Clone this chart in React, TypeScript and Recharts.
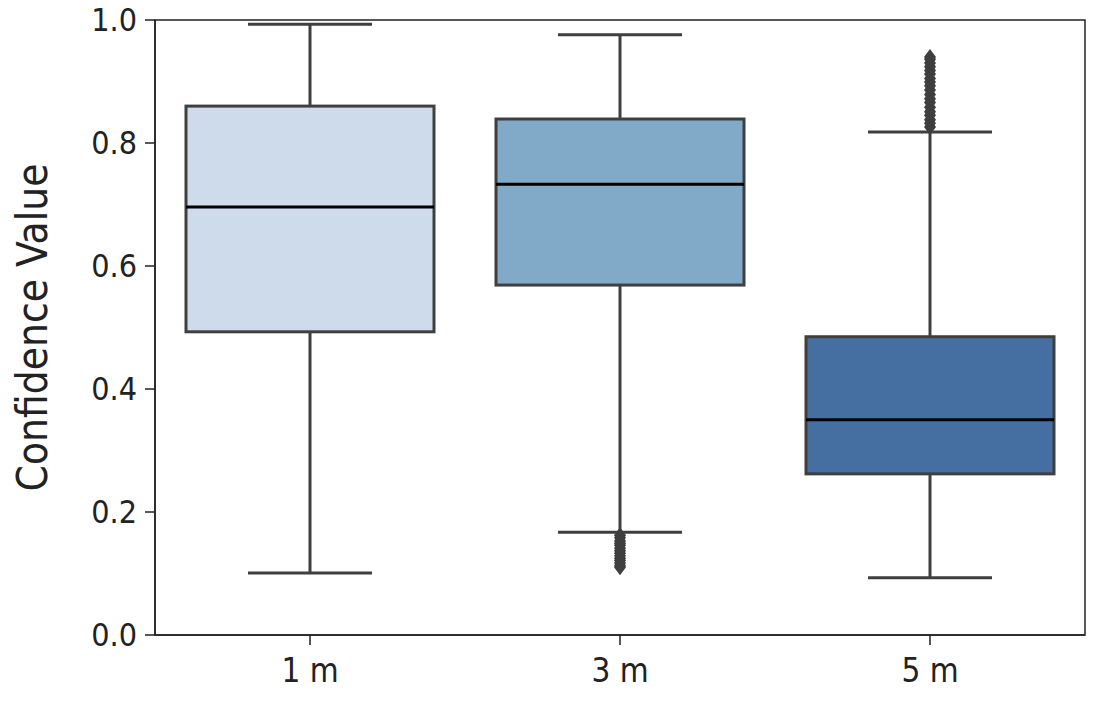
import { Bar, ComposedChart, ReferenceArea, XAxis, YAxis } from 'recharts';

const categories = ['1 m', '3 m', '5 m'];
const whiskerLow = [0.101, 0.167, 0.093];
const q1 = [0.493, 0.569, 0.262];
const median = [0.696, 0.733, 0.35];
const q3 = [0.86, 0.839, 0.485];
const whiskerHigh = [0.993, 0.976, 0.818];
const outliers: number[][] = [
  [],
  [0.162, 0.158, 0.153, 0.149, 0.146, 0.141, 0.137, 0.133, 0.129, 0.125, 0.121, 0.117, 0.113, 0.11],
  [0.826, 0.832, 0.838, 0.845, 0.851, 0.858, 0.866, 0.872, 0.879, 0.886, 0.893, 0.899, 0.905, 0.912, 0.918, 0.924, 0.93, 0.936, 0.94],
];
const boxColors = ['#cddbea', '#81a9c8', '#446fa0'];
const yTicks = [0, 0.2, 0.4, 0.6, 0.8, 1.0];

const data = categories.map((cat, i) => ({
  cat,
  range: [whiskerLow[i], whiskerHigh[i]],
  lo: whiskerLow[i],
  q1: q1[i],
  med: median[i],
  q3: q3[i],
  hi: whiskerHigh[i],
  fliers: outliers[i],
  color: boxColors[i],
}));

const FONT = '"DejaVu Sans Condensed", "DejaVu Sans", sans-serif';
const LINE = '#3f3f3f';

function BoxShape(props: any) {
  const { x, y, width, height, payload } = props;
  const top = Math.min(y, y + height);
  const bottom = Math.max(y, y + height);
  const { lo, hi } = payload;
  const py = (v: number) => bottom - ((v - lo) / (hi - lo)) * (bottom - top);
  const cx = x + width / 2;
  const capHalf = width / 4;
  return (
    <g>
      <line x1={cx} x2={cx} y1={py(hi)} y2={py(payload.q3)} stroke={LINE} strokeWidth={3} />
      <line x1={cx} x2={cx} y1={py(payload.q1)} y2={py(lo)} stroke={LINE} strokeWidth={3} />
      <line x1={cx - capHalf} x2={cx + capHalf} y1={py(hi)} y2={py(hi)} stroke={LINE} strokeWidth={3} />
      <line x1={cx - capHalf} x2={cx + capHalf} y1={py(lo)} y2={py(lo)} stroke={LINE} strokeWidth={3} />
      <rect
        x={x}
        y={py(payload.q3)}
        width={width}
        height={py(payload.q1) - py(payload.q3)}
        fill={payload.color}
        stroke={LINE}
        strokeWidth={3}
      />
      <line x1={x} x2={x + width} y1={py(payload.med)} y2={py(payload.med)} stroke="#000" strokeWidth={3} />
      {payload.fliers.map((v: number, k: number) => {
        const fy = py(v);
        return (
          <polygon
            key={k}
            points={`${cx},${fy - 8} ${cx + 6},${fy} ${cx},${fy + 8} ${cx - 6},${fy}`}
            fill={LINE}
          />
        );
      })}
    </g>
  );
}

export default function App() {
  return (
    <div style={{ position: 'absolute', left: 0, top: 0, background: '#fff' }}>
      <ComposedChart
        width={1098}
        height={708}
        data={data}
        margin={{ top: 20, right: 13, bottom: 0, left: 0 }}
        barCategoryGap="10%"
      >
        <XAxis
          dataKey="cat"
          type="category"
          height={73}
          tick={{ fill: '#222', fontSize: 33, fontFamily: FONT }}
          tickLine={{ stroke: '#222', strokeWidth: 1.5 }}
          tickSize={10}
          tickMargin={14}
          axisLine={{ stroke: '#222', strokeWidth: 1.5 }}
        />
        <YAxis
          domain={[0, 1]}
          ticks={yTicks}
          width={155}
          tickFormatter={(v: number) => v.toFixed(1)}
          tick={{ fill: '#222', fontSize: 32, fontFamily: FONT }}
          tickLine={{ stroke: '#222', strokeWidth: 1.5 }}
          tickSize={10}
          tickMargin={8}
          axisLine={{ stroke: '#222', strokeWidth: 1.5 }}
          label={{
            value: 'Confidence Value',
            angle: -90,
            position: 'insideLeft',
            offset: 32,
            style: { textAnchor: 'middle', fill: '#222', fontSize: 42, fontFamily: FONT },
          }}
        />
        <ReferenceArea y1={0} y2={1} fill="none" stroke="#222" strokeWidth={1.5} ifOverflow="extendDomain" />
        <Bar dataKey="range" shape={BoxShape} isAnimationActive={false} />
      </ComposedChart>
    </div>
  );
}
